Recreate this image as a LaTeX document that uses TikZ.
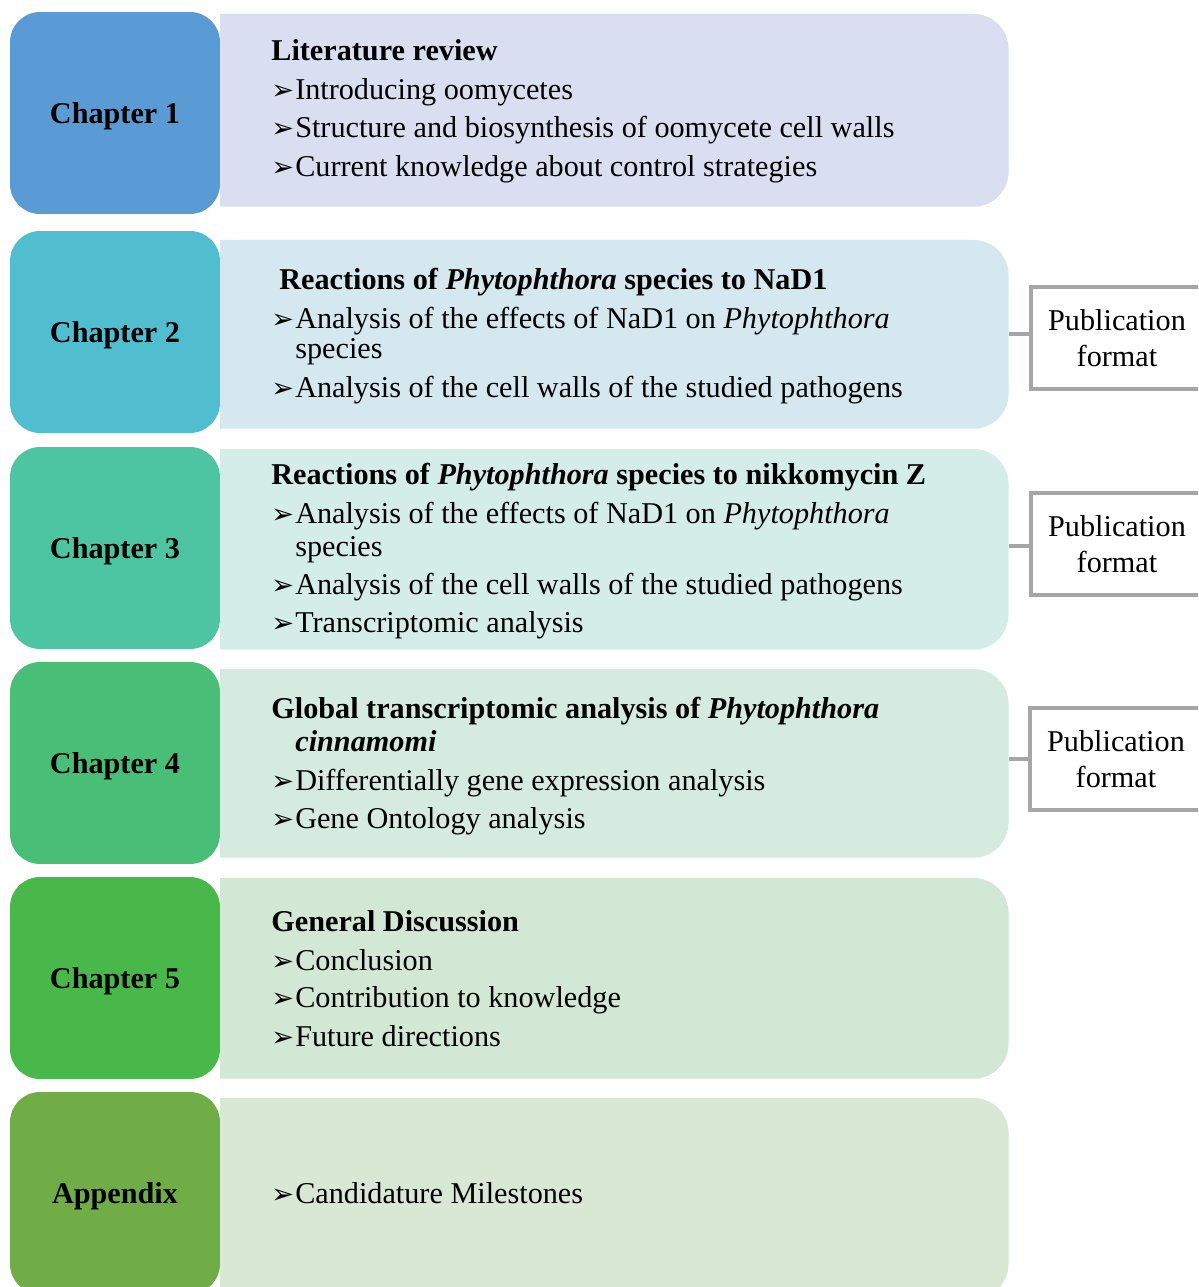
\documentclass[tikz,border=0pt]{standalone}
\usepackage{fontspec}
\setmainfont{Liberation Serif}
\newfontfamily\dingfont{DejaVu Sans}
\newcommand{\bul}{\makebox[13.6pt][l]{\dingfont\fontsize{15.5}{15.5}\selectfont ➢}}
\definecolor{ch1}{HTML}{5B9BD5}
\definecolor{ch2}{HTML}{50BECE}
\definecolor{ch3}{HTML}{4DC5A2}
\definecolor{ch4}{HTML}{49BE76}
\definecolor{ch5}{HTML}{48B84B}
\definecolor{ch6}{HTML}{70AD47}
\definecolor{bx1}{HTML}{D9DFF1}
\definecolor{bx2}{HTML}{D5E8EF}
\definecolor{bx3}{HTML}{D4EDE9}
\definecolor{bx4}{HTML}{D5EBDF}
\definecolor{bx5}{HTML}{D3E8D4}
\definecolor{bx6}{HTML}{D8E8D5}
\definecolor{pubgray}{HTML}{A6A6A6}
\begin{document}
\begin{tikzpicture}[x=0.02cm, y=-0.02cm, font=\fontsize{17.2}{20}\selectfont,
  chap/.style={rectangle, rounded corners=0.6cm, minimum width=4.2cm, minimum height=4.04cm, inner sep=0pt, text height=12pt, text depth=0pt, font=\fontsize{17.2}{20}\selectfont\bfseries},
  cbox/.style={rectangle, minimum width=15.76cm, anchor=north west, inner sep=0pt},
  ln/.style={anchor=base west, inner sep=0pt},
  pub/.style={draw=pubgray, line width=2.3pt, fill=white, minimum width=3.44cm, minimum height=2.04cm, align=center, inner sep=0pt, font=\fontsize{17.2}{20.4}\selectfont},
  link/.style={draw=pubgray, line width=2.3pt}]
\useasboundingbox (0,0) rectangle (1198,1287);
\clip (0,0) rectangle (1198,1287);
\fill[white] (0,0) rectangle (1198,1287);
% chapter boxes
\node[chap, fill=ch1] (c1) at (115,113) {Chapter 1};
\node[chap, fill=ch2] (c2) at (115,332) {Chapter 2};
\node[chap, fill=ch3] (c3) at (115,548) {Chapter 3};
\node[chap, fill=ch4] (c4) at (115,763) {Chapter 4};
\node[chap, fill=ch5] (c5) at (115,978) {Chapter 5};
\node[chap, fill=ch6] (c6) at (115,1193) {Appendix};
% content boxes (square left side, round right side)
\node[cbox, minimum height=3.84cm] (b1) at (220,14) {};
\node[cbox, minimum height=3.76cm] (b2) at (220,240) {};
\node[cbox, minimum height=4cm] (b3) at (220,449) {};
\node[cbox, minimum height=3.76cm] (b4) at (220,669) {};
\node[cbox, minimum height=4cm] (b5) at (220,878) {};
\node[cbox, minimum height=4cm] (b6) at (220,1098) {};
\foreach \b/\c in {b1/bx1, b2/bx2, b3/bx3, b4/bx4, b5/bx5, b6/bx6}
  \fill[\c] (\b.south west) -- (\b.north west) [rounded corners=0.7cm] -- (\b.north east) -- (\b.south east) -- ([xshift=-1cm]\b.south east) [sharp corners] -- cycle;
% texts
\node[ln] (t1) at (271,61) {\textbf{Literature review}};
\node[ln] (t1a) at (271,100) {\bul Introducing oomycetes};
\node[ln] (t1b) at (271,138) {\bul Structure and biosynthesis of oomycete cell walls};
\node[ln] (t1c) at (271,177) {\bul Current knowledge about control strategies};
\node[ln] (t2) at (279,290) {\textbf{Reactions of \textit{Phytophthora} species to NaD1}};
\node[ln] (t2a) at (271,328) {\bul Analysis of the effects of NaD1 on \textit{Phytophthora}};
\node[ln] (t2b) at (295,358) {species};
\node[ln] (t2c) at (271,397) {\bul Analysis of the cell walls of the studied pathogens};
\node[ln] (t3) at (271,484) {\textbf{Reactions of \textit{Phytophthora} species to nikkomycin Z}};
\node[ln] (t3a) at (271,523) {\bul Analysis of the effects of NaD1 on \textit{Phytophthora}};
\node[ln] (t3b) at (295,556) {species};
\node[ln] (t3c) at (271,594) {\bul Analysis of the cell walls of the studied pathogens};
\node[ln] (t3d) at (271,632) {\bul Transcriptomic analysis};
\node[ln] (t4) at (271,718) {\textbf{Global transcriptomic analysis of \textit{Phytophthora}}};
\node[ln] (t4a) at (295,751) {\textbf{\textit{cinnamomi}}};
\node[ln] (t4b) at (271,790) {\bul Differentially gene expression analysis};
\node[ln] (t4c) at (271,828) {\bul Gene Ontology analysis};
\node[ln] (t5) at (271,931) {\textbf{General Discussion}};
\node[ln] (t5a) at (271,970) {\bul Conclusion};
\node[ln] (t5b) at (271,1007) {\bul Contribution to knowledge};
\node[ln] (t5c) at (271,1046) {\bul Future directions};
\node[ln] (t6) at (271,1203) {\bul Candidature Milestones};
% publication boxes
\node[pub] (p2) at (1117,338) {Publication\\format};
\node[pub] (p3) at (1117,544) {Publication\\format};
\node[pub] (p4) at (1116,759) {Publication\\format};
\draw[link] (b2.east) -- (b2.east -| p2.west);
\draw[link] (b3.east |- 0,546) -- (p3.west |- 0,546);
\draw[link] (b4.east |- 0,759) -- (p4.west);
\end{tikzpicture}
\end{document}
